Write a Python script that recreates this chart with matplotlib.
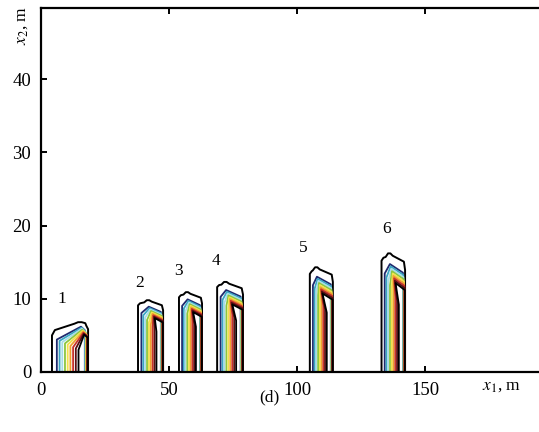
import numpy as np
import matplotlib.pyplot as plt

# plume footprints along x1 (m) and their heights along x2 (m)
plume_ids = ["1", "2", "3", "4", "5", "6"]
plume_left = [4.3, 37.9, 53.9, 68.8, 105.0, 133.0]
plume_right = [18.4, 47.7, 62.9, 78.9, 114.0, 142.2]
plume_shoulder = [5.0, 9.1, 10.2, 11.6, 13.4, 15.2]
plume_peak = [6.8, 9.8, 10.9, 12.3, 14.3, 16.2]
plume_peak_x = [15.2, 41.8, 57.0, 72.0, 107.5, 136.0]
label_x = [8.0, 38.5, 53.6, 68.5, 102.5, 135.0]
label_y = [10.0, 12.1, 13.8, 15.1, 16.9, 19.6]

# nested contour levels, outermost first
level_colors = ["black", "#1f2a6e", "#3aa6c4", "#a8dde6", "#8cc63f",
                "#f2e24a", "#f0a030", "#c8322a", "#5a0f12", "black"]

x_ticks = [0, 50, 100, 150]
y_ticks = [0, 10, 20, 30, 40]

plt.rcParams["font.family"] = "Liberation Serif"
plt.rcParams["mathtext.fontset"] = "stix"

fig = plt.figure(figsize=(5.39, 4.32), dpi=100)
ax = fig.add_axes([0.076, 0.139, 0.924, 0.842])

for xl, xr, sh, pk, px in zip(plume_left, plume_right, plume_shoulder,
                              plume_peak, plume_peak_x):
    w = xr - xl
    # outer envelope with a rounded cap
    xs = [xl, xl, xl + 0.08 * w, px - 0.15 * w, px - 0.05 * w, px + 0.05 * w,
          px + 0.15 * w, xr - 0.05 * w, xr, xr]
    ys = [0, sh, sh + 0.4 * (pk - sh), pk * 0.97, pk, pk, pk * 0.98,
          pk * 0.93, pk * 0.86, 0]
    ax.plot(xs, ys, color=level_colors[0], lw=1.4)
    # inner levels as narrowing columns
    for k, c in enumerate(level_colors[1:], start=1):
        l = xl + 0.06 * w + k * 0.075 * w
        r = xr - (len(level_colors) - k) * 0.01 * w
        top = pk * (0.93 - 0.02 * k)
        side = sh * (0.92 - 0.035 * k)
        p = min(px + k * 0.03 * w, r - 0.1 * w)
        xs = [l, l, p, r, r]
        ys = [0, side, top, top * 0.92, 0]
        ax.plot(xs, ys, color=c, lw=1.3)

for t, x, y in zip(plume_ids, label_x, label_y):
    ax.text(x, y, t, fontsize=12.5, ha="center", va="center")

ax.set_xlim(0, 194.5)
ax.set_ylim(0, 49.7)
ax.set_xticks(x_ticks)
ax.set_yticks(y_ticks)
ax.spines["right"].set_visible(False)
for s in ["left", "bottom", "top"]:
    ax.spines[s].set_linewidth(1.6)
ax.tick_params(direction="in", length=4, width=1.4, labelsize=13.5,
               top=True, pad=7)

fig.text(0.93, 0.107, r"$x_1$, m", fontsize=12.5, ha="center", va="center")
fig.text(0.04, 0.94, r"$x_2$, m", fontsize=12.5, ha="center", va="center",
         rotation=90)
fig.text(0.5, 0.08, "(d)", fontsize=12.5, ha="center", va="center")

fig.savefig("out.png", dpi=100)
